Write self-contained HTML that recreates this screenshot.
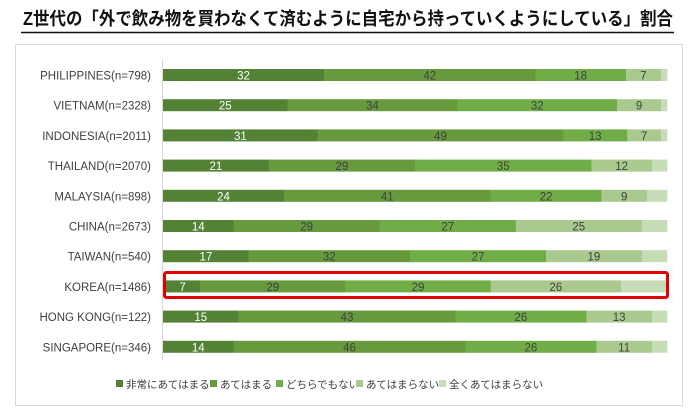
<!DOCTYPE html>
<html><head><meta charset="utf-8"><style>
html,body{margin:0;padding:0;background:#fff;}
svg{display:block;font-family:"Liberation Sans","Noto Sans CJK JP",sans-serif;}
</style></head><body>
<svg width="697" height="415" viewBox="0 0 697 415" xmlns="http://www.w3.org/2000/svg">
<text x="23" y="25" font-size="18" font-weight="bold" fill="#111" textLength="650" lengthAdjust="spacingAndGlyphs">Z世代の「外で飲み物を買わなくて済むように自宅から持っていくようにしている」割合</text>
<line x1="21" y1="32.5" x2="674" y2="32.5" stroke="#111" stroke-width="1.5"/>
<rect x="15.5" y="44.5" width="667" height="361" fill="none" stroke="#d9d9d9"/>
<line x1="162.5" y1="59" x2="162.5" y2="360" stroke="#d9d9d9"/>
<g id="bars" font-size="11.5"></g>
<rect x="164.5" y="272.5" width="503" height="25" rx="2" fill="none" stroke="#e00000" stroke-width="3"/>
<g font-size="10.5" fill="#404040">
<rect x="116" y="380" width="7" height="7" fill="#548235"/><text x="126" y="388">非常にあてはまる</text>
<rect x="210" y="380" width="7" height="7" fill="#679a3c"/><text x="220" y="388">あてはまる</text>
<rect x="276" y="380" width="7" height="7" fill="#70ad47"/><text x="286" y="388">どちらでもない</text>
<rect x="356" y="380" width="7" height="7" fill="#a9c98f"/><text x="366" y="388">あてはまらない</text>
<rect x="439" y="380" width="7" height="7" fill="#c6dcb6"/><text x="449" y="388">全くあてはまらない</text>
</g>
</svg>
<script>
var d=[["PHILIPPINES(n=798)",[32,42,18,7]],["VIETNAM(n=2328)",[25,34,32,9]],["INDONESIA(n=2011)",[31,49,13,7]],["THAILAND(n=2070)",[21,29,35,12]],["MALAYSIA(n=898)",[24,41,22,9]],["CHINA(n=2673)",[14,29,27,25]],["TAIWAN(n=540)",[17,32,27,19]],["KOREA(n=1486)",[7,29,29,26]],["HONG KONG(n=122)",[15,43,26,13]],["SINGAPORE(n=346)",[14,46,26,11]]];
var c=["#548235","#679a3c","#70ad47","#a9c98f","#c6dcb6"];
var g=document.getElementById("bars"),s="";
d.forEach(function(r,i){
 var y=69+i*30.2,v=r[1].slice(),sum=v.reduce(function(a,b){return a+b},0);
 var rest=100-sum; if(rest<1.2){var k=(1.2-rest)/4;v=v.map(function(x){return x-k});rest=1.2;}
 v.push(rest);
 var x0=163+(i==7?2:0),W=(i==7?501:504),x=x0;
 s+='<text x="151" y="'+(y+10.5)+'" text-anchor="end" fill="#404040">'+r[0]+'</text>';
 v.forEach(function(p,j){var w=p/100*W;
  s+='<rect x="'+x+'" y="'+y+'" width="'+(w+0.3)+'" height="12" fill="'+c[j]+'"/>';
  if(j<4)s+='<text x="'+(x+w/2)+'" y="'+(y+10.5)+'" text-anchor="middle" fill="'+(j==0?"#fff":"#404040")+'">'+r[1][j]+'</text>';
  x+=w;});
});
g.innerHTML=s;
</script>
</body></html>
